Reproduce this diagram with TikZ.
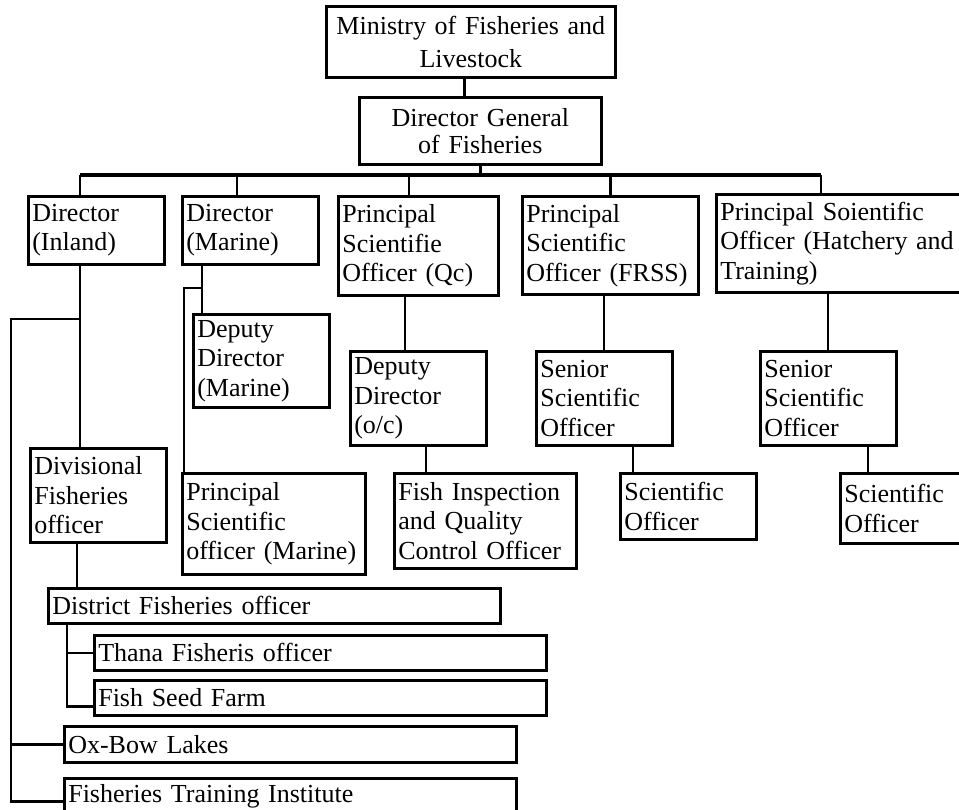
\documentclass[tikz,border=0pt]{standalone}
\usepackage{fontspec}
\setmainfont{Liberation Serif}
\newcommand\obox[7][]{%
  \pgfmathsetmacro\obw{#5-#3}%
  \pgfmathsetmacro\obh{#6-#4}%
  \pgfmathsetmacro\obt{#5-#3-8}%
  \node[box, minimum width=\obw pt, minimum height=\obh pt, text width=\obt pt, #1] (#2) at (#3,#4) {#7};}
\begin{document}
\begin{tikzpicture}[x=1pt,y=-1pt,
  box/.style={draw, line width=2.6pt, anchor=north west, inner xsep=4pt, inner ysep=0pt,
    align=left, font=\fontsize{26}{29.5}\selectfont},
  conn/.style={line width=2.4pt},
  busline/.style={line width=4.8pt}]
\useasboundingbox (0,0) rectangle (959,809);
\clip (0,0) rectangle (959,809);
% boxes
\obox[align=center, font=\fontsize{26}{33}\selectfont]{min}{325}{5}{614}{76}{Ministry of Fisheries and\\Livestock}
\obox[align=center, font=\fontsize{26}{27}\selectfont]{dg}{358}{96}{600}{163}{Director General\\of Fisheries}
\obox{dirin}{27}{195}{163}{263}{Director\\(Inland)}
\obox{dirma}{181}{195}{317}{263}{Director\\(Marine)}
\obox{psoqc}{337}{195}{497}{294}{Principal\\Scientifie\\Officer (Qc)}
\obox{psofrss}{521}{195}{697}{293}{Principal\\Scientific\\Officer (FRSS)}
\obox{psoht}{715}{193}{962}{291}{Principal Soientific\\Officer (Hatchery and\\Training)}
\obox{ddma}{192}{313}{328}{406}{Deputy\\Director\\(Marine)}
\obox{ddoc}{349}{350}{485}{444}{Deputy\\Director\\(o/c)}
\obox{ssofrss}{535}{350}{671}{444}{Senior\\Scientific\\Officer}
\obox{ssoht}{759}{350}{895}{444}{Senior\\Scientific\\Officer}
\obox{divfo}{29}{447}{165}{541}{Divisional\\Fisheries\\officer}
\obox{psoma}{181}{472}{364}{573}{Principal\\Scientific\\officer (Marine)}
\obox{fiqc}{393}{472}{575}{567}{Fish Inspection\\and Quality\\Control Officer}
\obox{sofrss}{619}{472}{755}{538}{Scientific\\Officer}
\obox{soht}{839}{472}{962}{542}{Scientific\\Officer}
\obox{dfo}{47}{587}{499}{622}{District Fisheries officer}
\obox{thana}{93}{634}{545}{669}{Thana Fisheris officer}
\obox{fsf}{93}{679}{545}{714}{Fish Seed Farm}
\obox{oxbow}{63}{725}{515}{761}{Ox-Bow Lakes}
\obox{fti}{63}{777}{515}{813}{Fisheries Training Institute}
% top connectors
\draw[conn] ([xshift=-6.5pt]min.south) -- ([xshift=-6.5pt]min.south |- dg.north);
\coordinate (busL) at (80,175);
\coordinate (busR) at (821,175);
\draw[busline] (busL) -- (busR);
\draw[conn] (dg.south) -- (dg.south |- busL);
\draw[conn] (busL) -- (busL |- dirin.north);
\draw[conn] ([xshift=56pt]dirma.north west) -- ([xshift=56pt]dirma.north west |- busL);
\draw[conn] ([xshift=72pt]psoqc.north west) -- ([xshift=72pt]psoqc.north west |- busL);
\draw[conn] (psofrss.north) -- (psofrss.north |- busL);
\draw[conn] (busR) -- (busR |- psoht.north);
% inland branch
\draw[conn] ([xshift=53pt]dirin.south west) -- ([xshift=53pt]dirin.south west |- divfo.north);
\coordinate (inA) at (80,319);
\coordinate (inB) at (11,319);
\draw[conn] (inA) -- (inB) |- ([yshift=-5pt]fti.west);
\draw[conn] (inB |- oxbow.west) -- (oxbow.west);
\draw[conn] ([xshift=48pt]divfo.south west) -- ([xshift=48pt]divfo.south west |- dfo.north);
\draw[conn] ([xshift=20pt]dfo.south west) |- ([yshift=-8.5pt]fsf.west);
\draw[conn] ([xshift=20pt]dfo.south west |- thana.west) -- (thana.west);
% marine branch
\draw[conn] ([xshift=21pt]dirma.south west) -- ([xshift=21pt]dirma.south west |- ddma.north);
\coordinate (maA) at (202,288);
\draw[conn] (maA) -| ([xshift=3pt]psoma.north west);
% Qc branch
\draw[conn] ([xshift=68pt]psoqc.south west) -- ([xshift=68pt]psoqc.south west |- ddoc.north);
\draw[conn] ([xshift=77pt]ddoc.south west) -- ([xshift=77pt]ddoc.south west |- fiqc.north);
% FRSS branch
\draw[conn] ([xshift=69pt]ssofrss.north west) -- ([xshift=69pt]ssofrss.north west |- psofrss.south);
\draw[conn] ([xshift=98pt]ssofrss.south west) -- ([xshift=98pt]ssofrss.south west |- sofrss.north);
% Hatchery branch
\draw[conn] ([xshift=69pt]ssoht.north west) -- ([xshift=69pt]ssoht.north west |- psoht.south);
\draw[conn] ([xshift=109pt]ssoht.south west) -- ([xshift=109pt]ssoht.south west |- soht.north);
\end{tikzpicture}
\end{document}
